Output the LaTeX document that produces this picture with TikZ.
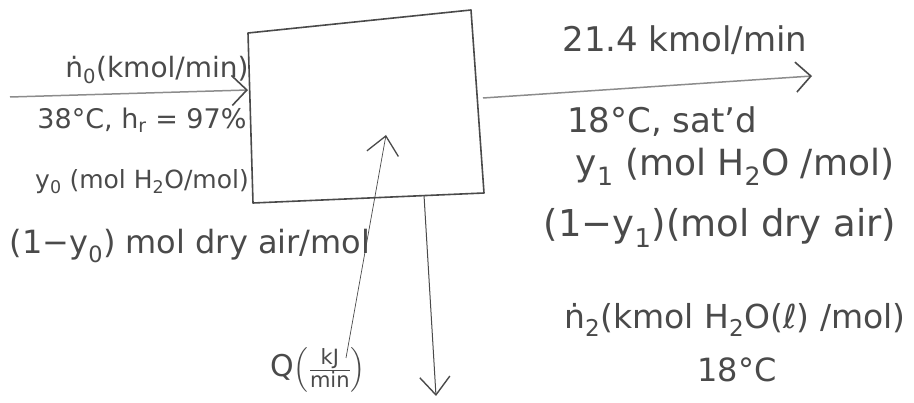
\documentclass[tikz,border=0pt]{standalone}
\usepackage{amsmath}
\usepackage{fontspec}
\setmainfont{DejaVu Sans}
\usepackage{xcolor}
\usetikzlibrary{arrows.meta}

\definecolor{pencil}{HTML}{4A4A4A}
\definecolor{softpencil}{HTML}{8C8C8C}

\tikzset{
  hand/.style={text=pencil, inner sep=0pt, font=\fontsize{#1}{#1}\selectfont},
  hand/.default=28,
  unitbox/.style={draw=pencil, line width=1.6pt, line join=round},
  stream/.style={draw=softpencil, line width=1.5pt,
    -{Straight Barb[length=15pt,width=30pt,line width=1.6pt,color=pencil]}},
  heatline/.style={draw=pencil, line width=0.7pt,
    -{Straight Barb[length=18pt,width=32pt,line width=1.3pt]}},
  dropline/.style={draw=pencil, line width=1pt,
    -{Straight Barb[length=18pt,width=30pt,line width=1.4pt]}}
}

\begin{document}
\begin{tikzpicture}[x=1pt,y=-1pt]
\useasboundingbox (0,0) rectangle (914,403);

% the unit
\coordinate (tl) at (248,33); \coordinate (tr) at (471,10);
\coordinate (br) at (484,193); \coordinate (bl) at (253,203);
\draw[unitbox] (tl) -- (tr) -- (br) -- (bl) -- cycle;

% stream end points
\coordinate (feed) at (10,97);   \coordinate (boxW) at (248,90);
\coordinate (boxE) at (483,98);  \coordinate (prod) at (812,76);
\coordinate (boxS) at (424,195); \coordinate (cond) at (436,396);
\coordinate (heat) at (346,358); \coordinate (heattip) at (386,135);

\draw[stream] (feed) -- (boxW);
\draw[stream] (boxE) -- (prod);
\draw[dropline] (boxS) -- (cond);
\draw[heatline] (heat) -- (heattip);

% feed labels
\node[hand=28] (n0) at (157,70) {ṅ\textsubscript{0}(kmol/min)};
\node[hand=27] (T0) at (142,120) {38°C, h\textsubscript{r} = 97\%};
\node[hand=25] (y0) at (142,182) {y\textsubscript{0} (mol H\textsubscript{2}O/mol)};
\node[hand=32] (a0) at (190,246) {(1−y\textsubscript{0}) mol dry air/mol};

% product labels
\node[hand=34] (n1) at (685,40) {21.4 kmol/min};
\node[hand=34] (T1) at (662,122) {18°C, sat'd};
\node[hand=36] (y1) at (735,167) {y\textsubscript{1} (mol H\textsubscript{2}O /mol)};
\node[hand=37] (a1) at (720,228) {(1−y\textsubscript{1})(mol dry air)};

% condensate and heat
\node[hand=33] (n2) at (735,320) {ṅ\textsubscript{2}(kmol H\textsubscript{2}O(ℓ) /mol)};
\node[hand=32] (T2) at (737,370) {18°C};
\node[hand=30] (Q) at (318,370) {Q$\left(\frac{\text{kJ}}{\text{min}}\right)$};
\end{tikzpicture}
\end{document}
